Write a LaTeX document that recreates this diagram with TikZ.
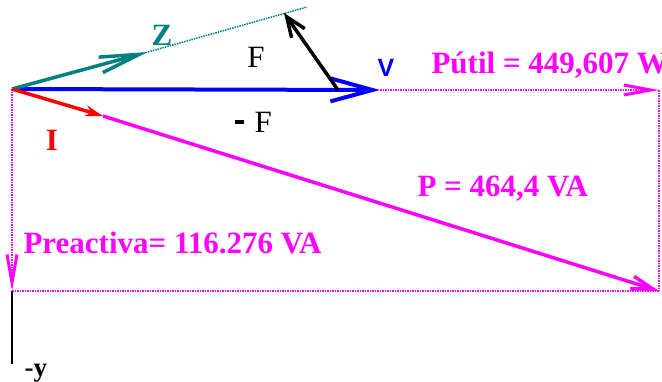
\documentclass[tikz,border=0pt]{standalone}
\usepackage{fontspec}
\setmainfont{Liberation Serif}
\newfontfamily\sanslab{Liberation Sans}
\usetikzlibrary{arrows.meta}
\definecolor{mag}{RGB}{255,0,255}
\definecolor{tealz}{RGB}{0,128,128}
\tikzset{
  lab/.style={font=\fontsize{31}{33}\selectfont\bfseries},
  dots/.style={line width=1.5pt,dash pattern=on 1.5pt off 1pt},
}
\begin{document}
\begin{tikzpicture}[x=1pt,y=-1pt]
\useasboundingbox (0,0) rectangle (662,381);
\coordinate (O) at (12,89);
\coordinate (V) at (380,90);
\coordinate (Z) at (148,52);
\coordinate (Zf) at (307,7);
\coordinate (Fs) at (338,90);
\coordinate (Fe) at (284,13);
\coordinate (I) at (103,116);
\coordinate (Pu) at (659,90);
\coordinate (P) at (659,291);
\coordinate (Q) at (12,291);
\coordinate (Y) at (12,364);
% rectangulo de potencias
\draw[dots,mag,-{Straight Barb[length=27pt,width=10pt,line width=3pt]}] (V) -- (Pu);
\draw[dots,mag] (Pu) -- (P);
\draw[dots,mag] (Q) -- (P);
\draw[dots,mag,-{Straight Barb[length=28pt,width=10pt,line width=3pt]}] (O) -- (Q);
\draw[line width=2pt] (Q) -- (Y);
\draw[dots,tealz] (Z) -- (Zf);
% vectores
\draw[mag,line width=3.5pt,-{Straight Barb[length=22pt,width=13pt]}] (I) -- (P);
\draw[blue,line width=4pt,-{Straight Barb[length=42pt,width=23pt]}] (O) -- (V);
\draw[tealz,line width=3.5pt,-{Straight Barb[length=40pt,width=16pt]}] (O) -- (Z);
\draw[red,line width=3.5pt,-{Stealth[length=18pt,width=11pt]}] (O) -- (I);
\draw[line width=3.5pt,-{Straight Barb[length=20pt,width=16pt]}] (Fs) -- (Fe);
% textos
\node[lab,mag,anchor=base west] (put) at (428,73) {Pútil = 449,607 W};
\node[lab,mag,anchor=base west] (pap) at (414,196) {P = 464,4 VA};
\node[lab,mag,anchor=base west] (pre) at (20,253) {Preactiva= 116.276 VA};
\node[blue,font=\fontsize{25}{28}\selectfont\sanslab\bfseries] (vl) at (386,68) {V};
\node[lab,tealz] (zl) at (162,35) {Z};
\node[red,lab] (il) at (52,140) {I};
\node[font=\fontsize{31}{33}\selectfont] (fl) at (256,57) {F};
\node[font=\fontsize{31}{33}\selectfont,anchor=base west] (mfl) at (231,132) {\rule[8pt]{9pt}{4pt}\hspace{11pt}F};
\node[font=\fontsize{27}{29}\selectfont\bfseries,anchor=base west] (yl) at (21,376) {-y};
\end{tikzpicture}
\end{document}
